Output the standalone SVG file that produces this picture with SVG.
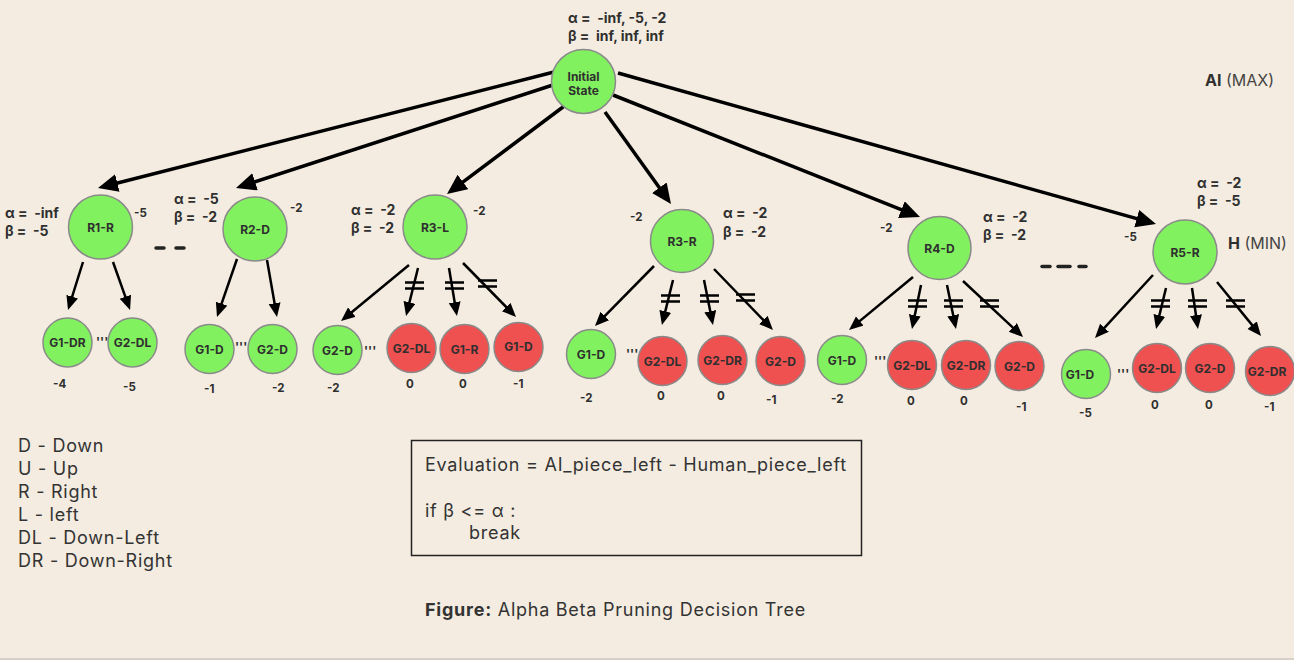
<svg xmlns="http://www.w3.org/2000/svg" width="1294" height="660" viewBox="0 0 1294 660" xml:space="preserve">
<defs>
<style>
text{font-family:Inter,"Liberation Sans",sans-serif;fill:#2f2f2f;white-space:pre}
.g{fill:#82F15F;stroke:#8a8a8a;stroke-width:1.5}
.r{fill:#EF5050;stroke:#8a8a8a;stroke-width:1.5}
.nl{font-size:12px;font-weight:700;text-anchor:middle}
.ab{font-size:14px;font-weight:700}
.v{font-size:11.5px;font-weight:700}
.tk{font-size:12px;font-weight:700}
.big{stroke:#000;stroke-width:3.5;fill:none;marker-end:url(#ah1)}
.sm{stroke:#000;stroke-width:2.5;fill:none;marker-end:url(#ah2)}
.eq{stroke:#000;stroke-width:2.5}
.dash{stroke:#222;stroke-width:3.5;stroke-linecap:round}
.leg{font-size:18px;letter-spacing:0.75px;fill:#333}
</style>
<marker id="ah1" markerUnits="userSpaceOnUse" markerWidth="22" markerHeight="20" refX="14" refY="9" orient="auto">
<path d="M0,0 L20,9 L0,18 z" fill="#000"/>
</marker>
<marker id="ah2" markerUnits="userSpaceOnUse" markerWidth="16" markerHeight="14" refX="10" refY="6" orient="auto">
<path d="M0,0 L14,6 L0,12 z" fill="#000"/>
</marker>
</defs>
<rect width="1294" height="660" fill="#F4ECE0"/>
<line x1="0" y1="659" x2="1294" y2="659" stroke="#d6d0c8" stroke-width="2"/>
<g id="connectors">
<line class="big" x1="554" y1="72" x2="103.8" y2="186.5"/>
<line class="big" x1="556" y1="84" x2="241.7" y2="186.1"/>
<line class="big" x1="567" y1="104" x2="451.8" y2="190.4"/>
<line class="big" x1="605" y1="112" x2="667.5" y2="199.1"/>
<line class="big" x1="613" y1="95" x2="914.4" y2="214.8"/>
<line class="big" x1="618" y1="73" x2="1150.2" y2="222.4"/>
<line class="sm" x1="83" y1="262" x2="69.2" y2="306.2"/>
<line class="sm" x1="113" y1="262" x2="128.7" y2="306.2"/>
<line class="sm" x1="237" y1="259" x2="218.3" y2="313.2"/>
<line class="sm" x1="267" y1="260" x2="276.3" y2="313.1"/>
<line class="sm" x1="409" y1="265" x2="344.1" y2="318.5"/>
<line class="sm" x1="418" y1="268" x2="407" y2="312.1"/>
<line class="sm" x1="449" y1="268" x2="456.3" y2="312.1"/>
<line class="sm" x1="463" y1="263" x2="513.2" y2="314.1"/>
<line class="sm" x1="654" y1="266" x2="597.8" y2="323.1"/>
<line class="sm" x1="673" y1="280" x2="662.9" y2="321.1"/>
<line class="sm" x1="704" y1="280" x2="712.2" y2="321.1"/>
<line class="sm" x1="714" y1="269" x2="770.2" y2="327.1"/>
<line class="sm" x1="913" y1="277" x2="852.1" y2="327.4"/>
<line class="sm" x1="921" y1="285" x2="912.8" y2="325.1"/>
<line class="sm" x1="947" y1="285" x2="955.2" y2="325.1"/>
<line class="sm" x1="963" y1="281" x2="1020.1" y2="334.3"/>
<line class="sm" x1="1153" y1="275" x2="1097.7" y2="335.1"/>
<line class="sm" x1="1166" y1="288" x2="1157" y2="325.1"/>
<line class="sm" x1="1192" y1="288" x2="1197.4" y2="325"/>
<line class="sm" x1="1217" y1="282" x2="1258.5" y2="332.9"/>
<g id="prune-marks">
<path class="eq" d="M405,282.5h19M405,288.5h19"/>
<path class="eq" d="M445,282.5h19M445,288.5h19"/>
<path class="eq" d="M478,280.5h19M478,286.5h19"/>
<path class="eq" d="M661,295.5h19M661,301.5h19"/>
<path class="eq" d="M700,295.5h19M700,301.5h19"/>
<path class="eq" d="M736,294.5h19M736,300.5h19"/>
<path class="eq" d="M908,300.5h19M908,306.5h19"/>
<path class="eq" d="M944,300.5h19M944,306.5h19"/>
<path class="eq" d="M980,300.5h19M980,306.5h19"/>
<path class="eq" d="M1151,300.5h19M1151,306.5h19"/>
<path class="eq" d="M1188,300.5h19M1188,306.5h19"/>
<path class="eq" d="M1226,300.5h19M1226,306.5h19"/>
</g>
</g>
<g id="dashes">
<line class="dash" x1="156" y1="248" x2="164" y2="248"/>
<line class="dash" x1="176" y1="248" x2="184" y2="248"/>
<line class="dash" x1="1042" y1="266.5" x2="1050" y2="266.5"/>
<line class="dash" x1="1058" y1="266.5" x2="1070" y2="266.5"/>
<line class="dash" x1="1079" y1="266.5" x2="1086" y2="266.5"/>
</g>
<g id="root">
<circle class="g" cx="583.5" cy="81.5" r="32"/>
<text class="nl" x="583.5" y="80.5">Initial</text>
<text class="nl" x="583.5" y="95">State</text>
<text class="ab" x="568" y="22.5">α =  -inf, -5, -2</text>
<text class="ab" x="568" y="40.5">β =  inf, inf, inf</text>
</g>
<g id="ai-label"><text x="1205" y="86" style="font-size:16px"><tspan font-weight="700">AI</tspan><tspan fill="#444"> (MAX)</tspan></text></g>
<g id="h-label"><text x="1228" y="249" style="font-size:16px"><tspan font-weight="700">H</tspan><tspan fill="#444"> (MIN)</tspan></text></g>
<g id="R1-R">
<circle class="g" cx="100.5" cy="227" r="32"/>
<text class="nl" x="100.5" y="231.5">R1-R</text>
<text class="ab" x="5" y="218">α =  -inf</text>
<text class="ab" x="5" y="236">β =  -5</text>
<text class="v" x="134" y="217">-5</text>
</g>
<g id="R2-D">
<circle class="g" cx="255" cy="229" r="32"/>
<text class="nl" x="255" y="233.5">R2-D</text>
<text class="ab" x="174" y="204">α =  -5</text>
<text class="ab" x="174" y="222">β =  -2</text>
<text class="v" x="290" y="212">-2</text>
</g>
<g id="R3-L">
<circle class="g" cx="435" cy="227" r="32"/>
<text class="nl" x="435" y="231.5">R3-L</text>
<text class="ab" x="351" y="215">α =  -2</text>
<text class="ab" x="351" y="233">β =  -2</text>
<text class="v" x="473" y="215">-2</text>
</g>
<g id="R3-R">
<circle class="g" cx="682" cy="241" r="31.5"/>
<text class="nl" x="682" y="245.5">R3-R</text>
<text class="ab" x="723" y="218">α =  -2</text>
<text class="ab" x="723" y="237">β =  -2</text>
<text class="v" x="630" y="221">-2</text>
</g>
<g id="R4-D">
<circle class="g" cx="939.5" cy="248" r="31.5"/>
<text class="nl" x="939.5" y="252.5">R4-D</text>
<text class="ab" x="983" y="222">α =  -2</text>
<text class="ab" x="983" y="240">β =  -2</text>
<text class="v" x="880" y="232">-2</text>
</g>
<g id="R5-R">
<circle class="g" cx="1185" cy="252" r="32"/>
<text class="nl" x="1185" y="256.5">R5-R</text>
<text class="ab" x="1197" y="188">α =  -2</text>
<text class="ab" x="1197" y="206">β =  -5</text>
<text class="v" x="1124" y="241">-5</text>
</g>
<g id="R1-leaves">
<g id="r1-g1-dr"><circle class="g" cx="67.5" cy="342.5" r="24.5"/><text class="nl" x="67.5" y="347">G1-DR</text><text class="v" x="53" y="388">-4</text></g>
<text class="tk" x="96" y="346">'''</text>
<g id="r1-g2-dl"><circle class="g" cx="132.5" cy="342.5" r="24.5"/><text class="nl" x="132.5" y="347">G2-DL</text><text class="v" x="123" y="391">-5</text></g>
</g>
<g id="R2-leaves">
<g id="r2-g1-d"><circle class="g" cx="209.5" cy="349" r="24.5"/><text class="nl" x="209.5" y="353.5">G1-D</text><text class="v" x="204" y="393">-1</text></g>
<text class="tk" x="235" y="351">'''</text>
<g id="r2-g2-d"><circle class="g" cx="272.5" cy="349" r="24.5"/><text class="nl" x="272.5" y="353.5">G2-D</text><text class="v" x="272" y="392">-2</text></g>
</g>
<g id="R3L-leaves">
<g id="r3l-g2-d"><circle class="g" cx="337.5" cy="350" r="24.5"/><text class="nl" x="337.5" y="354.5">G2-D</text><text class="v" x="327" y="392">-2</text></g>
<text class="tk" x="364" y="355">'''</text>
<g id="r3l-g2-dl"><circle class="r" cx="411.5" cy="348" r="24.5"/><text class="nl" x="411.5" y="352.5">G2-DL</text><text class="v" x="406" y="388">0</text></g>
<g id="r3l-g1-r"><circle class="r" cx="464.5" cy="349" r="24.5"/><text class="nl" x="464.5" y="353.5">G1-R</text><text class="v" x="459" y="388">0</text></g>
<g id="r3l-g1-d"><circle class="r" cx="518.5" cy="347" r="24.5"/><text class="nl" x="518.5" y="351">G1-D</text><text class="v" x="513" y="388">-1</text></g>
</g>
<g id="R3R-leaves">
<g id="r3r-g1-d"><circle class="g" cx="591" cy="354" r="24.5"/><text class="nl" x="591" y="358.5">G1-D</text><text class="v" x="580" y="402">-2</text></g>
<text class="tk" x="626" y="358">'''</text>
<g id="r3r-g2-dl"><circle class="r" cx="662.5" cy="361" r="24.5"/><text class="nl" x="662.5" y="365.5">G2-DL</text><text class="v" x="657" y="400">0</text></g>
<g id="r3r-g2-dr"><circle class="r" cx="722.5" cy="360" r="24.5"/><text class="nl" x="722.5" y="364.5">G2-DR</text><text class="v" x="717" y="400">0</text></g>
<g id="r3r-g2-d"><circle class="r" cx="780.5" cy="361" r="24.5"/><text class="nl" x="780.5" y="365.5">G2-D</text><text class="v" x="766" y="404">-1</text></g>
</g>
<g id="R4D-leaves">
<g id="r4d-g1-d"><circle class="g" cx="842" cy="360" r="24.5"/><text class="nl" x="842" y="364.5">G1-D</text><text class="v" x="831" y="403">-2</text></g>
<text class="tk" x="874" y="365">'''</text>
<g id="r4d-g2-dl"><circle class="r" cx="912" cy="365" r="24.5"/><text class="nl" x="912" y="369.5">G2-DL</text><text class="v" x="907" y="405">0</text></g>
<g id="r4d-g2-dr"><circle class="r" cx="966" cy="365" r="24.5"/><text class="nl" x="966" y="369.5">G2-DR</text><text class="v" x="960" y="405">0</text></g>
<g id="r4d-g2-d"><circle class="r" cx="1019.5" cy="366" r="24.5"/><text class="nl" x="1019.5" y="370.5">G2-D</text><text class="v" x="1016" y="411">-1</text></g>
</g>
<g id="R5R-leaves">
<g id="r5r-g1-d"><circle class="g" cx="1086" cy="374" r="24.5"/><text class="nl" x="1080" y="378.5">G1-D</text><text class="v" x="1079" y="417">-5</text></g>
<text class="tk" x="1117" y="378">'''</text>
<g id="r5r-g2-dl"><circle class="r" cx="1157" cy="368" r="24.5"/><text class="nl" x="1157" y="372.5">G2-DL</text><text class="v" x="1151" y="409">0</text></g>
<g id="r5r-g2-d"><circle class="r" cx="1210" cy="368" r="24.5"/><text class="nl" x="1210" y="372.5">G2-D</text><text class="v" x="1205" y="409">0</text></g>
<g id="r5r-g2-dr"><circle class="r" cx="1270" cy="371" r="24.5"/><text class="nl" x="1267" y="375.5">G2-DR</text><text class="v" x="1264" y="411">-1</text></g>
</g>
<g id="legend">
<text class="leg" x="18" y="452">D - Down</text>
<text class="leg" x="18" y="475">U - Up</text>
<text class="leg" x="18" y="498">R - Right</text>
<text class="leg" x="18" y="521">L - left</text>
<text class="leg" x="18" y="544">DL - Down-Left</text>
<text class="leg" x="18" y="567">DR - Down-Right</text>
</g>
<g id="eval-box">
<rect x="411.5" y="440.5" width="450" height="115" fill="none" stroke="#222" stroke-width="1.5"/>
<text class="leg" x="425" y="471">Evaluation = AI_piece_left - Human_piece_left</text>
<text class="leg" x="425" y="517">if β &lt;= α :</text>
<text class="leg" x="469" y="539">break</text>
</g>
<g id="caption">
<text class="leg" x="425" y="616"><tspan font-weight="700">Figure:</tspan> Alpha Beta Pruning Decision Tree</text>
</g>
</svg>
